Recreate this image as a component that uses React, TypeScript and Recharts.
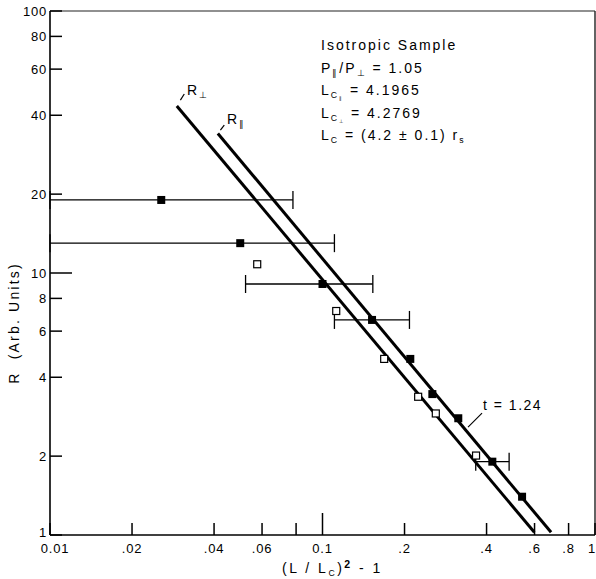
import React from 'react';
import { ScatterChart, Scatter, XAxis, YAxis, ErrorBar, ReferenceLine } from 'recharts';

const FONT = '"Liberation Sans", Arial, Helvetica, sans-serif';

const xTicks = [0.01, 0.02, 0.04, 0.06, 0.08, 0.1, 0.2, 0.4, 0.6, 0.8, 1];
const xTickLabels = ['0.01', '.02', '.04', '.06', '', '0.1', '.2', '.4', '.6', '.8', '1'];
const yTicks = [1, 2, 4, 6, 8, 10, 20, 40, 60, 80, 100];
const yTickLabels = ['1', '2', '4', '6', '8', '10', '20', '40', '60', '80', '100'];

// R parallel (filled squares)
const parX = [0.0256, 0.0499, 0.1, 0.152, 0.21, 0.253, 0.315, 0.42, 0.54];
const parY = [19.0, 13.0, 9.08, 6.62, 4.7, 3.45, 2.79, 1.905, 1.4];
const parErrLow = [0.0156, 0.0399, 0.0478, 0.0414, null, null, null, 0.055, null];
const parErrHigh = [0.0523, 0.0607, 0.053, 0.0565, null, null, null, 0.064, null];

// R perpendicular (open squares)
const perpX = [0.0576, 0.1123, 0.1684, 0.2244, 0.2605, 0.366];
const perpY = [10.8, 7.16, 4.7, 3.37, 2.91, 2.01];

// fitted lines, slope t = 1.24
const perpFitX = [0.0292, 0.599];
const perpFitY = [43.4, 1.024];
const parFitX = [0.0413, 0.69];
const parFitY = [34.1, 1.024];

// little pointer strokes next to the labels
const perpPointer = [{ x: 0.0301, y: 45.7 }, { x: 0.0311, y: 48.2 }];
const parPointer = [{ x: 0.0422, y: 35.1 }, { x: 0.0436, y: 36.7 }];
const tPointer = [{ x: 0.342, y: 2.58 }, { x: 0.385, y: 2.92 }];

const parData = parX.map((x, i) => ({
  x,
  y: parY[i],
  err: parErrLow[i] == null ? null : [parErrLow[i], parErrHigh[i]],
}));
const perpData = perpX.map((x, i) => ({ x, y: perpY[i] }));
const perpFit = perpFitX.map((x, i) => ({ x, y: perpFitY[i] }));
const parFit = parFitX.map((x, i) => ({ x, y: parFitY[i] }));

const FilledSquare = (p: any) => (
  <rect x={p.cx - 4} y={p.cy - 4} width={8} height={8} fill="#000" />
);
const OpenSquare = (p: any) => (
  <rect x={p.cx - 3.5} y={p.cy - 3.5} width={7} height={7} fill="#fff" stroke="#000" strokeWidth={1.2} />
);
const NoShape = () => <g />;

const XTick = (props: any) => {
  const { x, y, payload } = props;
  const i = xTicks.indexOf(payload.value);
  const len = payload.value === 0.1 ? 22 : 12;
  // first and last labels sit a little inside the frame, as in the print
  const shift = i === 0 ? 5 : i === xTicks.length - 1 ? -3 : 0;
  return (
    <g>
      <line x1={x} x2={x} y1={y} y2={y - len} stroke="#000" strokeWidth={1.5} />
      <text x={x + shift} y={y + 18} textAnchor="middle" fontSize={13} fill="#000" fontFamily={FONT} letterSpacing={0.8}>
        {xTickLabels[i]}
      </text>
    </g>
  );
};

const YTick = (props: any) => {
  const { x, y, payload } = props;
  const i = yTicks.indexOf(payload.value);
  const len = payload.value === 10 ? 22 : 12;
  const lift = i === 0 ? -3 : 0;
  return (
    <g>
      <line x1={x} x2={x + len} y1={y} y2={y} stroke="#000" strokeWidth={1.5} />
      <text x={x - 3} y={y + lift} dy="0.36em" textAnchor="end" fontSize={13} fill="#000" fontFamily={FONT} letterSpacing={0.8}>
        {yTickLabels[i]}
      </text>
    </g>
  );
};

const Sub = ({ children }: { children: React.ReactNode }) => (
  <span style={{ fontSize: '0.62em', position: 'relative', top: '0.35em' }}>{children}</span>
);

const line = (top: number): React.CSSProperties => ({
  position: 'absolute',
  left: 321,
  top,
  whiteSpace: 'nowrap',
  lineHeight: '16px',
});

export default function App() {
  return (
    <div style={{ position: 'absolute', left: 0, top: 0, width: 596, height: 579, background: '#fff', fontFamily: FONT, color: '#000' }}>
      <ScatterChart width={596} height={579} margin={{ top: 11, right: 1, bottom: 0, left: 0 }}>
        <XAxis
          type="number"
          dataKey="x"
          scale="log"
          domain={[0.01, 1]}
          ticks={xTicks}
          interval={0}
          allowDataOverflow
          height={44}
          tickSize={0}
          tickMargin={0}
          tickLine={false}
          tick={<XTick />}
          axisLine={{ stroke: '#000', strokeWidth: 1.6 }}
        />
        <YAxis
          type="number"
          dataKey="y"
          scale="log"
          domain={[1, 100]}
          ticks={yTicks}
          interval={0}
          allowDataOverflow
          width={50}
          tickSize={0}
          tickMargin={0}
          tickLine={false}
          tick={<YTick />}
          axisLine={{ stroke: '#000', strokeWidth: 1.6 }}
        />
        <ReferenceLine y={100} stroke="#222" strokeWidth={1.2} />
        <ReferenceLine x={1} stroke="#222" strokeWidth={1.4} />
        <ReferenceLine segment={perpPointer} stroke="#000" strokeWidth={1.2} />
        <ReferenceLine segment={parPointer} stroke="#000" strokeWidth={1.2} />
        <ReferenceLine segment={tPointer} stroke="#000" strokeWidth={1.2} />
        <Scatter data={perpFit} shape={NoShape} line={{ stroke: '#000', strokeWidth: 3 }} isAnimationActive={false} />
        <Scatter data={parFit} shape={NoShape} line={{ stroke: '#000', strokeWidth: 3 }} isAnimationActive={false} />
        <Scatter data={parData} shape={FilledSquare} isAnimationActive={false}>
          <ErrorBar dataKey="err" direction="x" width={9} stroke="#000" strokeWidth={1.3} />
        </Scatter>
        <Scatter data={perpData} shape={OpenSquare} isAnimationActive={false} />
      </ScatterChart>

      <div style={{ position: 'absolute', inset: 0, fontSize: 14, letterSpacing: 2, pointerEvents: 'none' }}>
        <div style={line(37)}>Isotropic Sample</div>
        <div style={line(60)}>
          P<Sub>∥</Sub>/P<Sub>⊥</Sub> = 1.05
        </div>
        <div style={line(82)}>
          L<Sub>C<Sub>∥</Sub></Sub> = 4.1965
        </div>
        <div style={line(105)}>
          L<Sub>C<Sub>⊥</Sub></Sub> = 4.2769
        </div>
        <div style={line(127)}>
          L<Sub>C</Sub> = (4.2 ± 0.1) r<Sub>s</Sub>
        </div>

        <div style={{ position: 'absolute', left: 187, top: 82, lineHeight: '16px' }}>
          R<Sub>⊥</Sub>
        </div>
        <div style={{ position: 'absolute', left: 227, top: 111, lineHeight: '16px' }}>
          R<Sub>∥</Sub>
        </div>
        <div style={{ position: 'absolute', left: 483, top: 397, lineHeight: '16px', letterSpacing: 1.5 }}>t = 1.24</div>

        <div
          style={{
            position: 'absolute',
            left: 14,
            top: 323,
            transform: 'translate(-50%, -50%) rotate(-90deg)',
            whiteSpace: 'nowrap',
            lineHeight: '16px',
            letterSpacing: 2.2,
          }}
        >
          R&nbsp; (Arb. Units)
        </div>
        <div style={{ position: 'absolute', left: 282, top: 560, whiteSpace: 'nowrap', lineHeight: '16px', letterSpacing: 2.5 }}>
          (L / L<Sub>C</Sub>)<span style={{ fontSize: '0.75em', fontWeight: 'bold', position: 'relative', top: '-0.45em' }}>2</span> - 1
        </div>
      </div>
    </div>
  );
}
